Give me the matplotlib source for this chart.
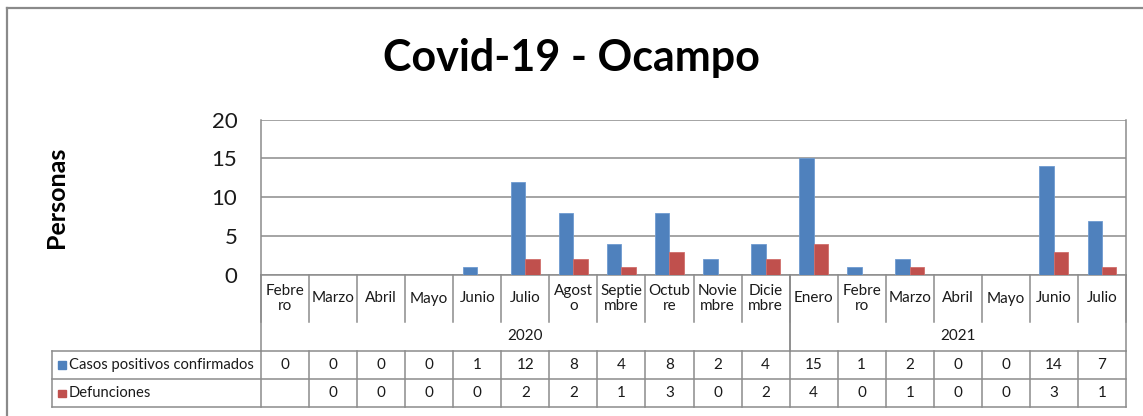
import numpy as np
import matplotlib
matplotlib.use("Agg")
import matplotlib.pyplot as plt
from matplotlib.transforms import blended_transform_factory

plt.rcParams['font.family'] = ['Lato', 'DejaVu Sans']

# datos
meses = ["Febre\nro", "Marzo", "Abril", "Mayo", "Junio", "Julio", "Agost\no",
         "Septie\nmbre", "Octub\nre", "Novie\nmbre", "Dicie\nmbre",
         "Enero", "Febre\nro", "Marzo", "Abril", "Mayo", "Junio", "Julio"]
anios = ["2020", "2021"]
meses_por_anio = [11, 7]
casos = [0, 0, 0, 0, 1, 12, 8, 4, 8, 2, 4, 15, 1, 2, 0, 0, 14, 7]
defunciones = [None, 0, 0, 0, 0, 2, 2, 1, 3, 0, 2, 4, 0, 1, 0, 0, 3, 1]
series = ["Casos positivos confirmados", "Defunciones"]
colores = ["#4F81BD", "#C0504D"]
yticks = [0, 5, 10, 15, 20]

W, H = 1143, 416
GRIS = "#8c8c8c"
TXT = "#1a1a1a"

fig = plt.figure(figsize=(W / 100, H / 100), dpi=100)

# capa en pixeles para tabla y bordes
ov = fig.add_axes([0, 0, 1, 1], zorder=0)
ov.set_xlim(0, W)
ov.set_ylim(H, 0)
ov.axis('off')

# area de grafico
x0, x1, ytop, ybot = 261, 1126, 119.5, 275
ax = fig.add_axes([x0 / W, (H - ybot) / H, (x1 - x0) / W, (ybot - ytop) / H], zorder=1)
ax.patch.set_alpha(0)

n = len(meses)
x = np.arange(n)
w = 0.3
defu = np.array([np.nan if v is None else v for v in defunciones], dtype=float)
ax.bar(x - w / 2, casos, w, color=colores[0], edgecolor="#6f9bd0", linewidth=0.6, zorder=3)
ax.bar(x + w / 2, np.nan_to_num(defu), w, color=colores[1], edgecolor="#d06e6b", linewidth=0.6, zorder=3)

ax.set_xlim(-0.5, n - 0.5)
ax.set_ylim(0, 20)
ax.set_yticks(yticks)
ax.set_xticks([])
ax.tick_params(axis='y', length=0, pad=17, labelsize=16, colors=TXT)
ax.yaxis.grid(True, color=GRIS, linewidth=1.1)
ax.set_axisbelow(True)
ax.spines['top'].set_visible(False)
for s in ['left', 'right', 'bottom']:
    ax.spines[s].set_color(GRIS)
    ax.spines[s].set_linewidth(1.1)

# titulo y etiqueta eje
fig.text(571 / W, 1 - 58 / H, "Covid-19 - Ocampo", ha='center', va='center',
         fontsize=31, fontweight='bold', color='black')
fig.text(57 / W, 1 - 197 / H, "Personas", ha='center', va='center', rotation=90,
         fontsize=18, fontweight='bold', color='black')

# tabla de datos bajo el eje
tr = blended_transform_factory(ax.transData, ov.transData)
y_cat_bot, y_tab0, y_tab1, y_tab2 = 322, 350.7, 379, 407
tab_left = 52
fs = 11

for i, m in enumerate(meses):
    ov.text(i, 298.5, m, transform=tr, ha='center', va='center', fontsize=fs,
            linespacing=1.15, color=TXT)

# separadores de meses
for b in np.arange(n + 1) - 0.5:
    ov.plot([b, b], [ybot, y_cat_bot], transform=tr, color=GRIS, lw=1.1, clip_on=False)
    ov.plot([b, b], [y_tab0, y_tab2], transform=tr, color=GRIS, lw=1.1, clip_on=False)

# separadores de anios y etiquetas
ini = 0
for a, k in zip(anios, meses_por_anio):
    ov.text(ini + (k - 1) / 2, 336, a, transform=tr, ha='center', va='center',
            fontsize=fs, color=TXT)
    for b in (ini - 0.5, ini + k - 0.5):
        ov.plot([b, b], [ybot, y_tab0], transform=tr, color=GRIS, lw=1.1, clip_on=False)
    ini += k

# lineas horizontales de la tabla
for yy in (y_tab0, y_tab1, y_tab2):
    ov.plot([tab_left, x1], [yy, yy], color=GRIS, lw=1.1)
ov.plot([tab_left, tab_left], [y_tab0, y_tab2], color=GRIS, lw=1.1)

# filas
filas = [casos, defunciones]
for r, (nombre, col, vals) in enumerate(zip(series, colores, filas)):
    yc = (y_tab0 + y_tab1) / 2 if r == 0 else (y_tab1 + y_tab2) / 2
    ov.add_patch(plt.Rectangle((58, yc - 3.5), 7.5, 7.5, color=col))
    ov.text(69, yc, nombre, ha='left', va='center', fontsize=10.6, color=TXT)
    for i, v in enumerate(vals):
        if v is not None:
            ov.text(i, yc, str(v), transform=tr, ha='center', va='center',
                    fontsize=fs, color=TXT)

# borde del grafico
ov.plot([7, 7], [8, H], color="#8a8a8a", lw=1.6)
ov.plot([7, W], [8, 8], color="#8a8a8a", lw=1.6)

fig.savefig("out.png", dpi=100)
